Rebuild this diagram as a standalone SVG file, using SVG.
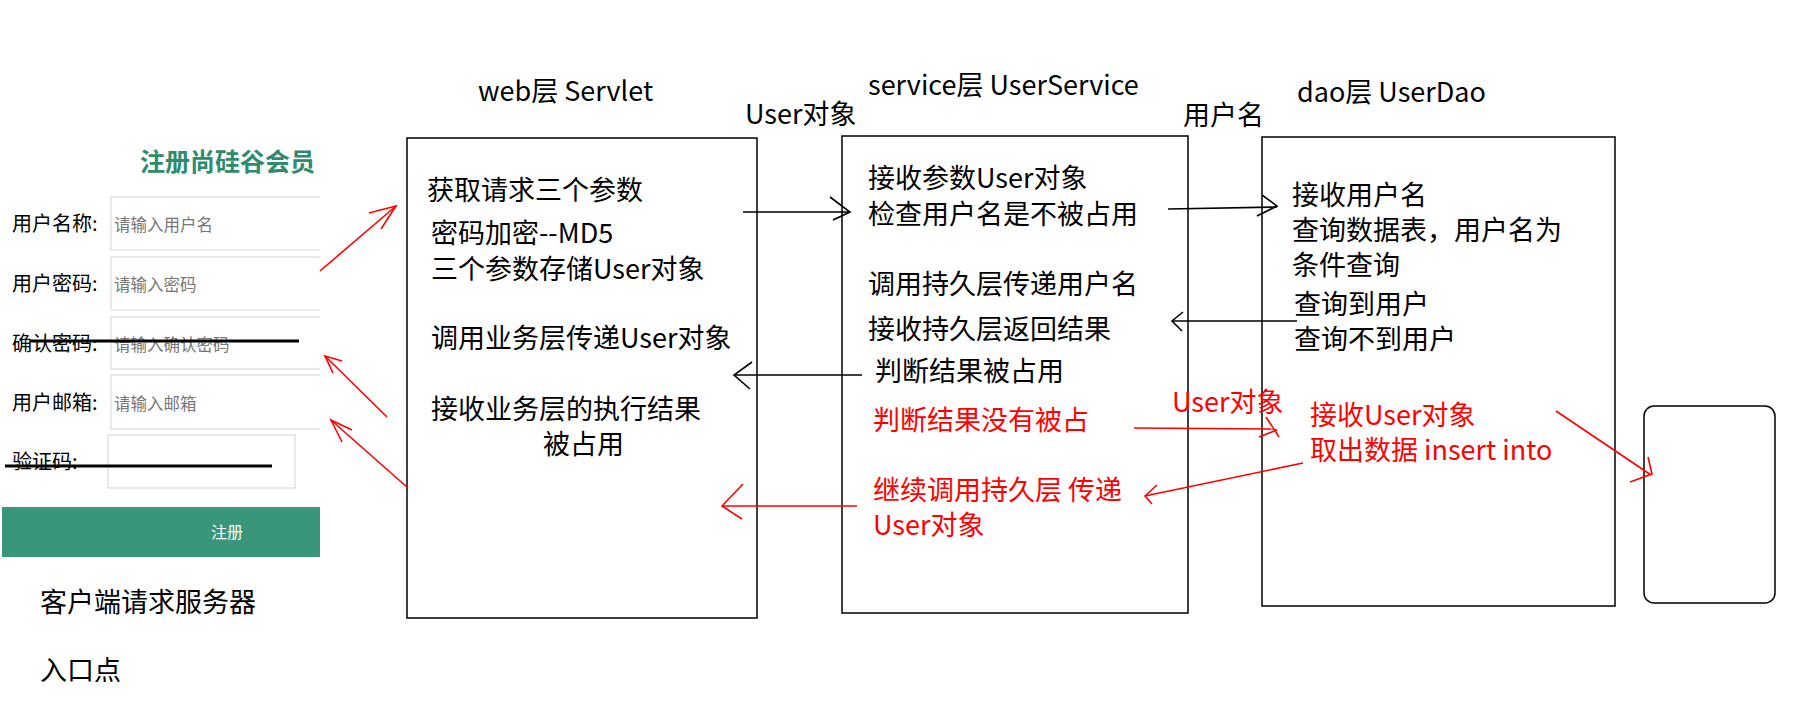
<svg xmlns="http://www.w3.org/2000/svg" width="1798" height="709" viewBox="0 0 1798 709">
<style>
text{font-family:"Microsoft YaHei","Noto Sans CJK SC","Noto Sans",sans-serif;}
.t{font-size:27px;fill:#000;}
.r{font-size:27px;fill:#f00;}
.lab{font-size:20px;fill:#000;}
.ph{font-size:16.5px;fill:#777;}
.box{fill:#fff;stroke:#000;stroke-width:1.5;}
.inp{fill:#fff;stroke:#e2e2e2;stroke-width:1.5;}
.k{fill:none;stroke:#000;stroke-width:1.6;}
.rd{fill:none;stroke:#f00;stroke-width:1.6;}
.st{fill:none;stroke:#000;stroke-width:3;}
</style>
<rect width="1798" height="709" fill="#fff"/>

<g id="form">
  <text x="140" y="171" style="font-size:25px;font-weight:bold;fill:#2e8b6e">注册尚硅谷会员</text>
  <path class="inp" d="M320,197 H111 V250 H320"/>
  <path class="inp" d="M320,257 H111 V310 H320"/>
  <path class="inp" d="M320,317 H111 V369 H320"/>
  <path class="inp" d="M320,375 H111 V429 H320"/>
  <rect class="inp" x="108" y="435" width="187" height="53"/>
  <text class="lab" x="12" y="231">用户名称:</text>
  <text class="ph" x="114" y="231">请输入用户名</text>
  <text class="lab" x="12" y="291">用户密码:</text>
  <text class="ph" x="114" y="291">请输入密码</text>
  <text class="lab" x="12" y="351">确认密码:</text>
  <text class="ph" x="114" y="351">请输入确认密码</text>
  <text class="lab" x="12" y="410">用户邮箱:</text>
  <text class="ph" x="114" y="410">请输入邮箱</text>
  <text class="lab" x="12" y="469">验证码:</text>
  <line class="st" x1="30" y1="341" x2="299" y2="341"/>
  <line class="st" x1="5" y1="466" x2="272" y2="466"/>
  <rect x="2" y="507" width="318" height="50" fill="#3a967a"/>
  <text x="227" y="538" text-anchor="middle" style="font-size:16px;fill:#fff">注册</text>
  <text class="t" x="40" y="612">客户端请求服务器</text>
  <text class="t" x="40" y="680">入口点</text>
</g>

<g id="web">
  <text class="t" x="478" y="101">web层 Servlet</text>
  <rect class="box" x="407" y="138" width="350" height="480"/>
  <text class="t" x="427" y="200">获取请求三个参数</text>
  <text class="t" x="431" y="243">密码加密--MD5</text>
  <text class="t" x="431" y="279">三个参数存储User对象</text>
  <text class="t" x="431" y="348">调用业务层传递User对象</text>
  <text class="t" x="431" y="419">接收业务层的执行结果</text>
  <text class="t" x="543" y="454">被占用</text>
</g>

<g id="service">
  <text class="t" x="868" y="95">service层 UserService</text>
  <rect class="box" x="842" y="136" width="346" height="477"/>
  <text class="t" x="868" y="188">接收参数User对象</text>
  <text class="t" x="868" y="224">检查用户名是不被占用</text>
  <text class="t" x="868" y="294">调用持久层传递用户名</text>
  <text class="t" x="868" y="339">接收持久层返回结果</text>
  <text class="t" x="875" y="381">判断结果被占用</text>
  <text class="r" x="873" y="430">判断结果没有被占</text>
  <text class="r" x="873" y="500">继续调用持久层 传递</text>
  <text class="r" x="873" y="535">User对象</text>
</g>

<g id="dao">
  <text class="t" x="1297" y="102">dao层 UserDao</text>
  <rect class="box" x="1262" y="137" width="353" height="469"/>
  <text class="t" x="1292" y="205">接收用户名</text>
  <text class="t" x="1292" y="240">查询数据表，用户名为</text>
  <text class="t" x="1292" y="275">条件查询</text>
  <text class="t" x="1294" y="314">查询到用户</text>
  <text class="t" x="1294" y="349">查询不到用户</text>
  <text class="r" x="1310" y="425">接收User对象</text>
  <text class="r" x="1310" y="460">取出数据 insert into</text>
</g>

<g id="db">
  <rect class="box" x="1644" y="406" width="131" height="197" rx="10" ry="10"/>
</g>

<g id="connectors">
  <line class="k" x1="743" y1="212" x2="850" y2="212"/>
  <polyline class="k" points="830,197 850,212 833,220"/>
  <text class="t" x="745" y="124">User对象</text>

  <line class="k" x1="1168" y1="209" x2="1277" y2="207"/>
  <polyline class="k" points="1262,195 1277,206 1257,216"/>
  <text class="t" x="1183" y="125">用户名</text>

  <line class="k" x1="1297" y1="321" x2="1172" y2="321"/>
  <polyline class="k" points="1183,312 1172,321 1182,331"/>

  <line class="k" x1="862" y1="375" x2="734" y2="375"/>
  <polyline class="k" points="752,362 734,375 750,389"/>

  <line class="rd" x1="320" y1="271" x2="396" y2="206"/>
  <polyline class="rd" points="369,213 396,206 381,229"/>
  <line class="rd" x1="387" y1="417" x2="325" y2="356"/>
  <polyline class="rd" points="342,361 325,356 333,373"/>
  <line class="rd" x1="408" y1="488" x2="331" y2="420"/>
  <polyline class="rd" points="352,430 331,420 342,442"/>

  <line class="rd" x1="857" y1="506" x2="722" y2="506"/>
  <polyline class="rd" points="743,484 722,506 742,519"/>

  <line class="rd" x1="1134" y1="428" x2="1277" y2="429"/>
  <line class="rd" x1="1266" y1="417" x2="1279" y2="437"/>
  <line class="rd" x1="1259" y1="437" x2="1277" y2="430"/>
  <text class="r" x="1172" y="412">User对象</text>

  <line class="rd" x1="1303" y1="463" x2="1145" y2="496"/>
  <polyline class="rd" points="1157,485 1145,496 1152,504"/>

  <line class="rd" x1="1556" y1="411" x2="1651" y2="475"/>
  <polyline class="rd" points="1648,457 1652,474 1630,482"/>
</g>
</svg>
